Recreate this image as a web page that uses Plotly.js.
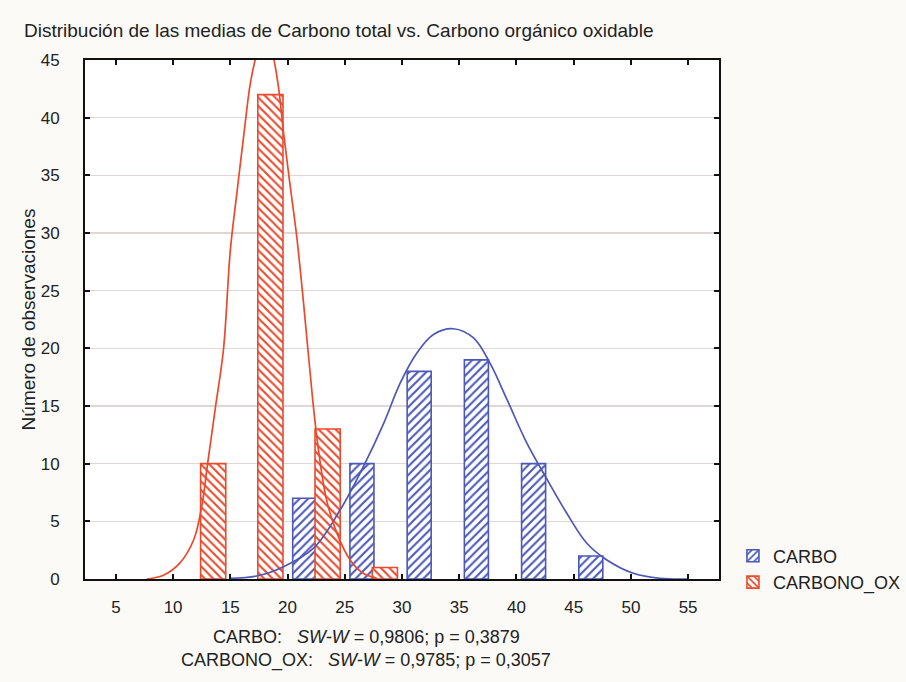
<!DOCTYPE html>
<html>
<head>
<meta charset="utf-8">
<script src="https://cdn.plot.ly/plotly-3.0.1.min.js"></script>
<style>html,body{margin:0;padding:0;background:#fbfaf6;}#chart{width:906px;height:682px;}</style>
</head>
<body>
<div id="chart"></div>
<script>
// Histogram bins (bin centres) and counts
const carboBins = [22.5, 27.5, 32.5, 37.5, 42.5, 47.5];
const carboCounts = [7, 10, 18, 19, 10, 2];
const oxBins = [12.5, 17.5, 22.5, 27.5];
const oxCounts = [10, 42, 13, 1];

// Fitted normal curves
const carboCurveX = [15.0, 17.3, 19.65, 22.3, 24.6, 26.6, 28.4, 29.85, 31.3, 32.75, 34.5, 36.25, 37.7, 39.2, 40.9, 42.7, 44.4, 46.15, 47.9, 50.2, 52.55, 54.9];
const carboCurveY = [0.06, 0.26, 1.07, 2.7, 6.0, 9.7, 13.5, 17.0, 19.6, 21.2, 21.7, 20.9, 18.7, 15.5, 11.8, 8.6, 5.7, 3.1, 1.65, 0.5, 0.06, 0];
const oxCurveX = [7.7, 9.2, 10.6, 11.8, 12.5, 13.0, 13.7, 14.4, 15.0, 15.6, 16.2, 16.75, 17.3, 18.0, 18.7, 19.2, 19.65, 20.2, 20.8, 21.4, 22.2, 22.7, 23.4, 24.3, 25.5, 26.6, 27.8];
const oxCurveY = [0, 0.35, 1.4, 3.4, 6.3, 9.9, 14.9, 19.9, 28.5, 33.7, 38.7, 43.0, 45.5, 47.5, 45.5, 42.7, 38.7, 34.3, 29.7, 23.9, 15.5, 11.2, 6.9, 4.0, 1.6, 0.5, 0.06];

const xTicks = [5, 10, 15, 20, 25, 30, 35, 40, 45, 50, 55];
const yTicks = [0, 5, 10, 15, 20, 25, 30, 35, 40, 45];

const seriesNames = ['CARBO', 'CARBONO_OX'];
const titleText = 'Distribución de las medias de Carbono total vs. Carbono orgánico oxidable';
const yTitleText = 'Número de observaciones';
const statsLines = [
  'CARBO:\u00A0\u00A0\u00A0<i>SW-W</i> = 0,9806; p = 0,3879',
  'CARBONO_OX:\u00A0\u00A0\u00A0<i>SW-W</i> = 0,9785; p = 0,3057'
];

const BLUE = '#4b58b8';
const RED = '#ea4a2c';
const FONT = 'Liberation Sans, Arial, sans-serif';

const traces = [
  {
    type: 'bar', name: seriesNames[0], x: carboBins, y: carboCounts,
    offset: -2.05, width: 2.1,
    marker: {color: 'white', line: {color: BLUE, width: 1.6},
      pattern: {shape: '/', fgcolor: BLUE, bgcolor: 'white', size: 6, solidity: 0.35, fillmode: 'replace'}}
  },
  {
    type: 'bar', name: seriesNames[1], x: oxBins, y: oxCounts,
    offset: -0.1, width: 2.2,
    marker: {color: 'white', line: {color: RED, width: 1.6},
      pattern: {shape: '\\', fgcolor: RED, bgcolor: 'white', size: 6, solidity: 0.35, fillmode: 'replace'}}
  },
  {
    type: 'scatter', mode: 'lines', x: carboCurveX, y: carboCurveY, showlegend: false,
    line: {color: BLUE, width: 1.7, shape: 'spline', smoothing: 1}, hoverinfo: 'skip'
  },
  {
    type: 'scatter', mode: 'lines', x: oxCurveX, y: oxCurveY, showlegend: false,
    line: {color: RED, width: 1.7, shape: 'spline', smoothing: 1}, hoverinfo: 'skip'
  }
];

const layout = {
  width: 906, height: 682,
  paper_bgcolor: '#fbfaf6', plot_bgcolor: 'white',
  margin: {l: 85, r: 187, t: 60, b: 103, autoexpand: false},
  font: {family: FONT, size: 17, color: '#222'},
  barmode: 'overlay',
  title: {text: titleText, x: 24/906, xanchor: 'left', xref: 'container', y: 1 - 30/682, yanchor: 'middle', yref: 'container',
    font: {family: FONT, size: 19, color: '#222'}},
  xaxis: {range: [2.3, 57.7], tickvals: xTicks, ticktext: xTicks.map(String), ticks: 'inside', ticklen: 5, tickwidth: 2, tickcolor: '#111',
    showline: true, linecolor: '#111', linewidth: 2, mirror: 'allticks', showgrid: false, zeroline: false, automargin: false,
    ticklabelstandoff: 12, tickfont: {size: 17}},
  yaxis: {range: [0, 45], tickvals: yTicks, ticktext: yTicks.map(String), ticks: 'inside', ticklen: 5, tickwidth: 2, tickcolor: '#111',
    showline: true, linecolor: '#111', linewidth: 2, mirror: 'allticks', showgrid: true, gridcolor: '#e0d6d6', gridwidth: 1.5, zeroline: false, automargin: false,
    ticklabelstandoff: 20, tickfont: {size: 17},
    title: {text: yTitleText, standoff: 0, font: {size: 19, color: '#222'}}},
  legend: {x: 1.022, xanchor: 'left', y: 0.08, yanchor: 'top', bgcolor: 'rgba(0,0,0,0)', font: {size: 18}, tracegroupgap: 0, itemwidth: 30},
  annotations: statsLines.map((t, i) => ({
    text: t, xref: 'paper', yref: 'paper', x: (366 - 85) / 634, xanchor: 'center',
    y: -(637 + i * 23 - 579) / 519, yanchor: 'middle', showarrow: false, font: {size: 18, color: '#222'}
  }))
};

Plotly.newPlot('chart', traces, layout, {displayModeBar: false, staticPlot: true});
</script>
</body>
</html>
